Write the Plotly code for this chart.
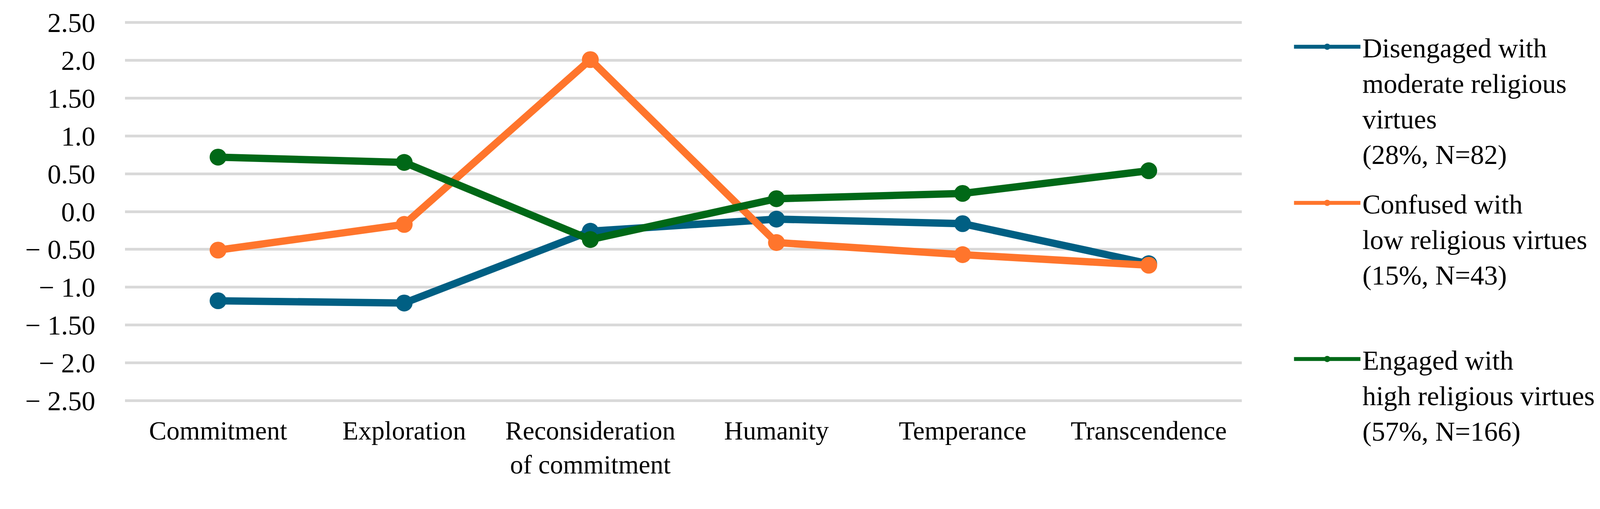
import plotly.graph_objects as go

categories = ["Commitment", "Exploration", "Reconsideration<br>of commitment",
              "Humanity", "Temperance", "Transcendence"]

disengaged = [-1.18, -1.21, -0.26, -0.10, -0.16, -0.69]
confused = [-0.51, -0.17, 2.01, -0.41, -0.57, -0.71]
engaged = [0.72, 0.65, -0.37, 0.17, 0.24, 0.54]

series_names = [
    "Disengaged with<br>moderate religious<br>virtues<br>(28%, N=82)",
    "Confused with<br>low religious virtues<br>(15%, N=43)<br> ",
    "Engaged with<br>high religious virtues<br>(57%, N=166)",
]
series_colors = ["#005F83", "#FF752C", "#006817"]

tick_vals = [2.5, 2.0, 1.5, 1.0, 0.5, 0.0, -0.5, -1.0, -1.5, -2.0, -2.5]
tick_text = ["2.50", "2.0", "1.50", "1.0", "0.50", "0.0",
             "\u2212 0.50", "\u2212 1.0", "\u2212 1.50", "\u2212 2.0", "\u2212 2.50"]

FONT = "Liberation Serif, Times New Roman, serif"
FS = 70
S = 0.939  # page is photographed at ~1.065 device px per CSS px

fig = go.Figure()
for i, (vals, name, col) in enumerate(zip([disengaged, confused, engaged], series_names, series_colors)):
    fig.add_trace(go.Scatter(
        x=categories, y=vals, name=name, mode="lines+markers",
        line=dict(color=col, width=20 * S),
        marker=dict(color=col, size=46 * S, line=dict(width=0)),
        legendgroup=f"g{i}",
    ))

fig.update_layout(
    width=round(4363 * S), height=round(1304 * S),
    margin=dict(l=332 * S, r=986 * S, t=47.5 * S, b=214.5 * S, autoexpand=False),
    paper_bgcolor="white", plot_bgcolor="white",
    font=dict(family=FONT, size=FS, color="black"),
    showlegend=True,
    legend=dict(
        x=1.045, xanchor="left", y=0.985, yanchor="top",
        valign="top", tracegroupgap=33, itemwidth=170, maxheight=1200,
        font=dict(family=FONT, size=FS, color="black"),
        bgcolor="rgba(0,0,0,0)",
    ),
    xaxis=dict(
        type="category", range=[-0.5, 5.5], showgrid=False, zeroline=False,
        showline=False, ticks="", ticklabelstandoff=27,
        tickfont=dict(family=FONT, size=67, color="black"),
    ),
    yaxis=dict(
        range=[-2.525, 2.525], tickvals=tick_vals, ticktext=tick_text,
        showgrid=True, gridcolor="#D9D9D9", gridwidth=7.5 * S,
        zeroline=False, showline=False, ticks="", ticklabelstandoff=75,
        tickfont=dict(family=FONT, size=FS, color="black"),
    ),
)

fig.write_html("out.html")
